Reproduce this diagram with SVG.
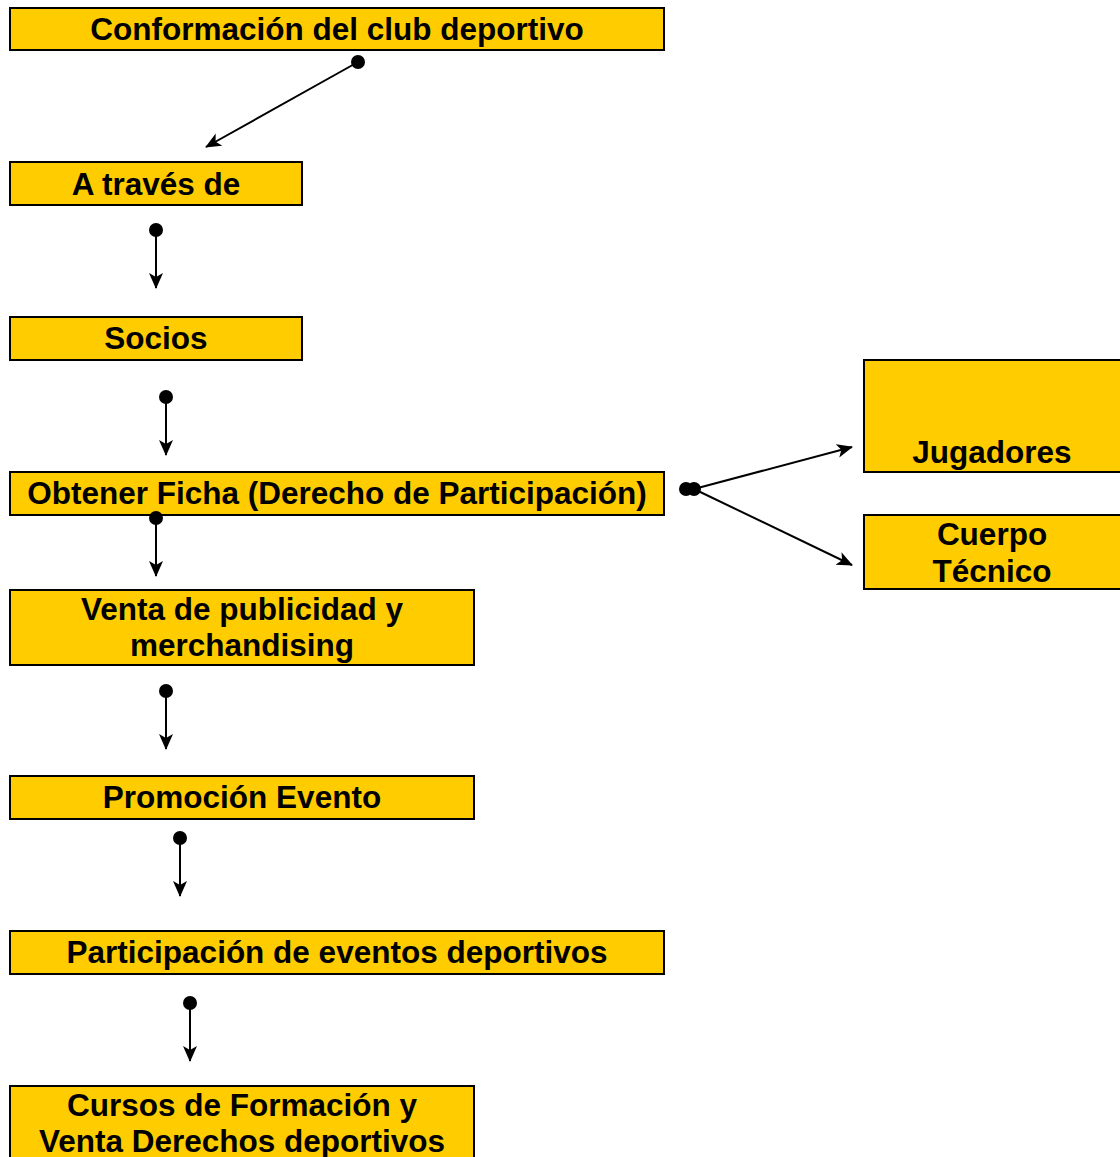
<svg xmlns="http://www.w3.org/2000/svg" width="1120" height="1157" viewBox="0 0 1120 1157">
<style>
.box{fill:#ffcc00;stroke:#000;stroke-width:2}
.t{font-family:"Liberation Sans",Arial,sans-serif;font-weight:bold;font-size:31.5px;fill:#000;text-anchor:middle}
.c line{stroke:#000;stroke-width:2;marker-end:url(#ah)}
.c circle{fill:#000}
</style>
<defs>
<marker id="ah" markerWidth="18" markerHeight="16" refX="15" refY="7" orient="auto" markerUnits="userSpaceOnUse">
<path d="M0,0 L16,7 L0,14 L4,7 Z" fill="#000"/>
</marker>
</defs>
<g id="n1"><rect class="box" x="10" y="8" width="654" height="42"/><text class="t" x="337" y="40">Conformación del club deportivo</text></g>
<g id="n2"><rect class="box" x="10" y="162" width="292" height="43"/><text class="t" x="156" y="195">A través de</text></g>
<g id="n3"><rect class="box" x="10" y="317" width="292" height="43"/><text class="t" x="156" y="349">Socios</text></g>
<g id="n4"><rect class="box" x="10" y="472" width="654" height="43"/><text class="t" x="337" y="504">Obtener Ficha (Derecho de Participación)</text></g>
<g id="n5"><rect class="box" x="864" y="360" width="258" height="112"/><text class="t" x="992" y="463">Jugadores</text></g>
<g id="n6"><rect class="box" x="864" y="515" width="258" height="74"/><text class="t" x="992" y="545">Cuerpo</text><text class="t" x="992" y="582">Técnico</text></g>
<g id="n7"><rect class="box" x="10" y="590" width="464" height="75"/><text class="t" x="242" y="620">Venta de publicidad y</text><text class="t" x="242" y="656">merchandising</text></g>
<g id="n8"><rect class="box" x="10" y="776" width="464" height="43"/><text class="t" x="242" y="808">Promoción Evento</text></g>
<g id="n9"><rect class="box" x="10" y="931" width="654" height="43"/><text class="t" x="337" y="963">Participación de eventos deportivos</text></g>
<g id="n10"><rect class="box" x="10" y="1086" width="464" height="80"/><text class="t" x="242" y="1116">Cursos de Formación y</text><text class="t" x="242" y="1152">Venta Derechos deportivos</text></g>
<g id="connectors" class="c">
<line x1="358" y1="62" x2="206" y2="147"/><circle cx="358" cy="62" r="7"/>
<line x1="156" y1="230" x2="156" y2="288"/><circle cx="156" cy="230" r="7"/>
<line x1="166" y1="397" x2="166" y2="455"/><circle cx="166" cy="397" r="7"/>
<line x1="694" y1="489" x2="852" y2="447"/>
<line x1="694" y1="489" x2="852" y2="565"/>
<circle cx="686" cy="489" r="7"/><circle cx="694" cy="489" r="7"/>
<line x1="156" y1="518" x2="156" y2="576"/><circle cx="156" cy="518" r="7"/>
<line x1="166" y1="691" x2="166" y2="749"/><circle cx="166" cy="691" r="7"/>
<line x1="180" y1="838" x2="180" y2="896"/><circle cx="180" cy="838" r="7"/>
<line x1="190" y1="1003" x2="190" y2="1061"/><circle cx="190" cy="1003" r="7"/>
</g>
</svg>
